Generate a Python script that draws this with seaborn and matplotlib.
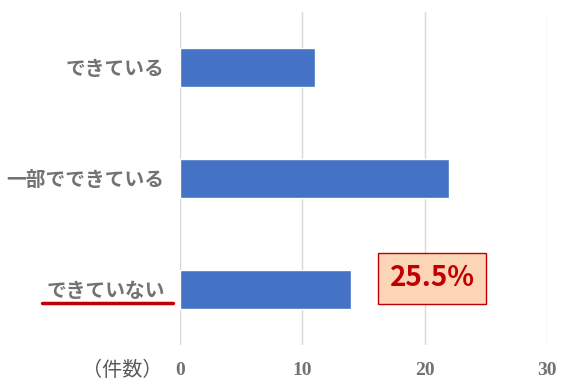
import matplotlib
matplotlib.use("Agg")
import matplotlib.pyplot as plt
import seaborn as sns
import pandas as pd
from matplotlib.patches import Rectangle
from matplotlib.lines import Line2D

categories = ["できている", "一部でできている", "できていない"]
values = [11, 22, 14]
xticks = [0, 10, 20, 30]
annotation_text = "25.5%"
unit_label = "（件数）"

sns.set_theme(style="white")
plt.rcParams['font.family'] = ['Noto Sans CJK JP', 'DejaVu Sans']

GRAY = "#767171"
df = pd.DataFrame({"cat": categories, "val": values})

fig = plt.figure(figsize=(5.61, 3.85), dpi=100)
ax = fig.add_axes([180/561, 1-345/385, (547-180)/561, (345-12)/385])
sns.barplot(data=df, y="cat", x="val", orient="h", color="#4472C4",
            saturation=1, width=0.35, ax=ax)
ax.set_xlim(0, 30)
ax.set_ylim(2.5, -0.5)
ax.set_xticks(xticks)
ax.set_xticklabels([str(t) for t in xticks], family=['Liberation Serif', 'DejaVu Serif'],
                   fontsize=14, color=GRAY, fontweight='bold')
ax.set_xlabel("")
ax.set_ylabel("")
ax.tick_params(axis='x', length=0, pad=12)
ax.tick_params(axis='y', length=0, pad=11)
for lbl in ax.get_yticklabels():
    lbl.set_fontsize(14.2)
    lbl.set_fontweight('bold')
    lbl.set_color(GRAY)
ax.grid(axis='x', color="#D9D9D9", linewidth=1)
ax.set_axisbelow(True)
for s in ax.spines.values():
    s.set_visible(False)

# annotation box
ax.add_patch(Rectangle((16.19, 1.671), 25.02-16.19, 2.13-1.671,
                       facecolor="#FBD5B5", edgecolor="#C00000", linewidth=1, zorder=5))
ax.text((16.19+25.02)/2, (1.671+2.13)/2, annotation_text, ha='center', va='center',
        fontsize=20, fontweight='bold', color="#C00000", zorder=6)

# underline under できていない
fig.add_artist(Line2D([42/561, 173/561], [1-303/385, 1-303/385], color="#C00000", linewidth=2.5))

fig.text(122/561, 1-371/385, unit_label, ha='center', va='center', fontsize=14.5, color="#595959")

fig.savefig("out.png", dpi=100)
